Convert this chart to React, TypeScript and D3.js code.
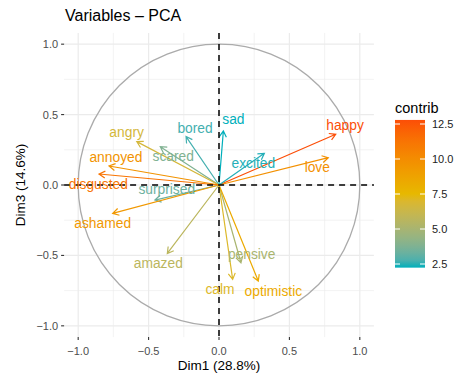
import React from "react";
import * as d3 from "d3";

const variables = ["happy", "love", "excited", "sad", "bored", "scared", "angry", "annoyed", "disgusted", "surprised", "ashamed", "amazed", "pensive", "calm", "optimistic"];
const dim1 = [0.829, 0.776, 0.322, 0.031, -0.234, -0.417, -0.584, -0.781, -0.852, -0.455, -0.755, -0.367, 0.156, 0.097, 0.279];
const dim3 = [0.36, 0.194, 0.225, 0.384, 0.344, 0.272, 0.308, 0.135, 0.078, -0.107, -0.202, -0.486, -0.552, -0.67, -0.682];
const contrib = [12.79, 9.83, 2.37, 2.24, 2.66, 3.81, 6.7, 9.65, 11.25, 3.35, 9.38, 5.7, 5.05, 7.04, 8.34];
// repelled label positions (data units)
const labelX = [0.895, 0.698, 0.244, 0.102, -0.17, -0.325, -0.656, -0.732, -0.857, -0.371, -0.826, -0.431, 0.232, 0.007, 0.386];
const labelY = [0.419, 0.123, 0.154, 0.462, 0.403, 0.201, 0.371, 0.197, 0.007, -0.031, -0.272, -0.556, -0.49, -0.741, -0.758];

const axisTicks = [-1, -0.5, 0, 0.5, 1];
const minorTicks = [-0.75, -0.25, 0.25, 0.75];
const legendTicks = [2.5, 5, 7.5, 10, 12.5];
const gradientCols = ["#00AFBB", "#E7B800", "#FC4E07"];

const FONT = "'Liberation Sans', Arial, Helvetica, sans-serif";

const fmt = (v: number) => (v < 0 ? "\u2212" : "") + Math.abs(v).toFixed(1);

export default function App() {
  const x = d3.scaleLinear().domain([-1.1, 1.1]).range([219 - 154.9, 219 + 154.9]);
  const y = d3.scaleLinear().domain([-1.08, 1.08]).range([185 + 152.1, 185 - 152.1]);
  const [x0, x1] = x.range();
  const [yb, yt] = y.range();

  const ext = d3.extent(contrib) as [number, number];
  const color = d3
    .scaleLinear<string>()
    .domain([ext[0], (ext[0] + ext[1]) / 2, ext[1]])
    .range(gradientCols)
    .interpolate(d3.interpolateLab);

  const leg = d3.scaleLinear().domain([2.5, 12.5]).range([264, 124]);
  const barX = 395;
  const barW = 30;
  const barTop = leg(ext[1]);
  const barBot = leg(ext[0]);
  const stops = d3.range(0, 1.0001, 0.05).map((t) => ({
    t,
    c: color(ext[0] + t * (ext[1] - ext[0])),
  }));

  const circle = d3.path();
  circle.arc(x(0), y(0), x(1) - x(0), 0, Math.PI * 2);

  const headLen = 7;
  const headAng = Math.PI / 6;

  return (
    <svg width={458} height={383} style={{ display: "block", position: "absolute", left: 0, top: 0 }} fontFamily={FONT}>
      <rect width={458} height={383} fill="#fff" />
      {/* grid */}
      {minorTicks.map((t) => (
        <g key={"m" + t}>
          <line x1={x(t)} x2={x(t)} y1={yt} y2={yb} stroke="#EBEBEB" strokeWidth={0.6} />
          <line x1={x0} x2={x1} y1={y(t)} y2={y(t)} stroke="#EBEBEB" strokeWidth={0.6} />
        </g>
      ))}
      {axisTicks.map((t) => (
        <g key={"M" + t}>
          <line x1={x(t)} x2={x(t)} y1={yt} y2={yb} stroke="#EBEBEB" strokeWidth={1.2} />
          <line x1={x0} x2={x1} y1={y(t)} y2={y(t)} stroke="#EBEBEB" strokeWidth={1.2} />
        </g>
      ))}
      {/* circle */}
      <path d={circle.toString()} fill="none" stroke="#ABABAB" strokeWidth={1.3} />
      {/* arrows */}
      {variables.map((v, i) => {
        const px = x(dim1[i]);
        const py = y(dim3[i]);
        const ang = Math.atan2(py - y(0), px - x(0));
        const a1 = ang + Math.PI - headAng;
        const a2 = ang + Math.PI + headAng;
        const d = `M${x(0)},${y(0)}L${px},${py}M${px + headLen * Math.cos(a1)},${py + headLen * Math.sin(a1)}L${px},${py}L${px + headLen * Math.cos(a2)},${py + headLen * Math.sin(a2)}`;
        return <path key={v} d={d} fill="none" stroke={color(contrib[i])} strokeWidth={1.2} strokeLinejoin="miter" />;
      })}
      {/* dashed reference lines */}
      <line x1={x(0)} x2={x(0)} y1={yt} y2={yb} stroke="#000" strokeWidth={1.5} strokeDasharray="6,5" />
      <line x1={x0} x2={x1} y1={y(0)} y2={y(0)} stroke="#000" strokeWidth={1.5} strokeDasharray="6,5" />
      {/* labels */}
      {variables.map((v, i) => (
        <text key={"l" + v} x={x(labelX[i])} y={y(labelY[i])} textAnchor="middle" dominantBaseline="central" fontSize={13.8} fill={color(contrib[i])}>
          {v}
        </text>
      ))}
      {/* axes ticks */}
      {axisTicks.map((t) => (
        <g key={"t" + t}>
          <line x1={x(t)} x2={x(t)} y1={yb} y2={yb + 3} stroke="#333" strokeWidth={1.1} />
          <text x={x(t)} y={yb + 18} textAnchor="middle" fontSize={11} fill="#4D4D4D">
            {fmt(t)}
          </text>
          <line x1={x0 - 3} x2={x0} y1={y(t)} y2={y(t)} stroke="#333" strokeWidth={1.1} />
          <text x={x0 - 6} y={y(t)} textAnchor="end" dominantBaseline="central" fontSize={11} fill="#4D4D4D">
            {fmt(t)}
          </text>
        </g>
      ))}
      {/* axis titles */}
      <text x={(x0 + x1) / 2} y={370} textAnchor="middle" fontSize={13.5} fill="#000">
        Dim1 (28.8%)
      </text>
      <text transform={`translate(25,${(yt + yb) / 2}) rotate(-90)`} textAnchor="middle" fontSize={13.5} fill="#000">
        Dim3 (14.6%)
      </text>
      {/* title */}
      <text x={65} y={21} fontSize={16} fill="#000">
        Variables – PCA
      </text>
      {/* legend */}
      <defs>
        <linearGradient id="legGrad" x1="0" y1="1" x2="0" y2="0">
          {stops.map((s) => (
            <stop key={s.t} offset={s.t} stopColor={s.c} />
          ))}
        </linearGradient>
      </defs>
      <text x={barX} y={113} fontSize={14.5} fill="#000">
        contrib
      </text>
      <rect x={barX} y={barTop} width={barW} height={barBot - barTop} fill="url(#legGrad)" />
      {legendTicks.map((t) => (
        <g key={"lg" + t}>
          <line x1={barX} x2={barX + 5} y1={leg(t)} y2={leg(t)} stroke="#fff" strokeWidth={1} />
          <line x1={barX + barW - 5} x2={barX + barW} y1={leg(t)} y2={leg(t)} stroke="#fff" strokeWidth={1} />
          <text x={barX + barW + 7} y={leg(t)} dominantBaseline="central" fontSize={11} fill="#222">
            {t.toFixed(1)}
          </text>
        </g>
      ))}
    </svg>
  );
}
